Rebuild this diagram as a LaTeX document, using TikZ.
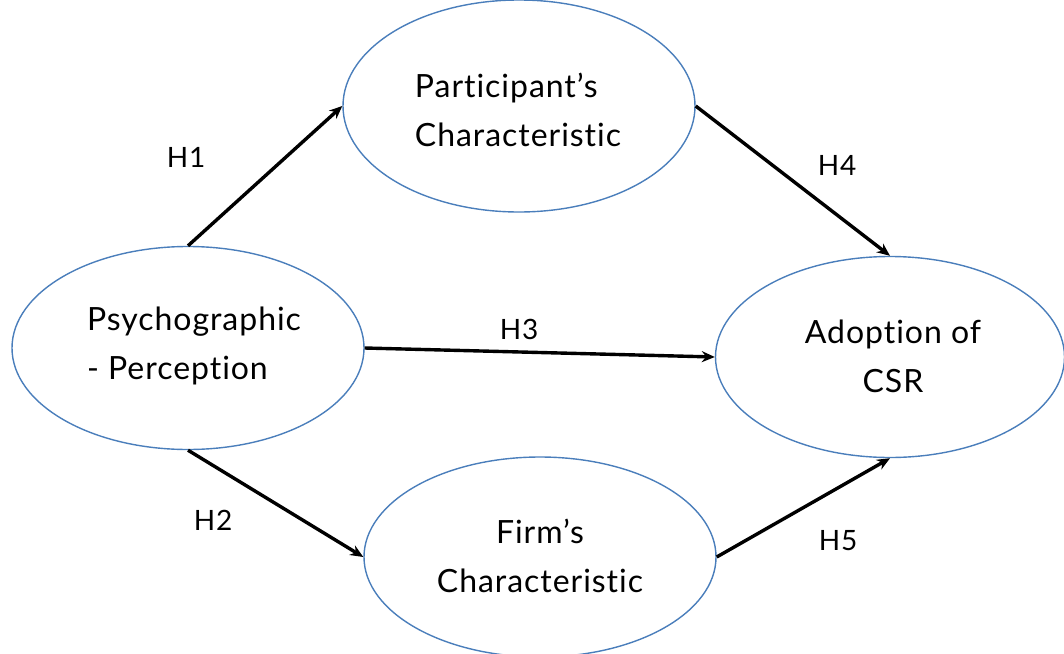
\documentclass[tikz,border=0pt]{standalone}
\usepackage{fontspec}
\setmainfont[Ligatures=NoCommon,LetterSpace=3]{Lato}
\usetikzlibrary{shapes.geometric,arrows.meta}
\definecolor{ellblue}{HTML}{4A7EBB}
\tikzset{
  construct/.style={ellipse, draw=ellblue, line width=1.4pt, inner sep=0pt,
    minimum width=352pt, minimum height=203pt},
  conn/.style={line width=3.4pt, -{Stealth[length=13pt,width=11pt]}},
  lbl/.style={font=\fontsize{28}{30}\selectfont},
  txt/.style={font=\fontsize{32}{49}\selectfont}
}
\begin{document}
\begin{tikzpicture}[x=1pt,y=-1pt]
\useasboundingbox (0,0) rectangle (1064,653);
\clip (0,0) rectangle (1064,653);
\node[construct, minimum height=212pt] (part) at (519,106) {};
\node[construct] (psy) at (188,348) {};
\node[construct, minimum width=349pt, minimum height=201pt] (csr) at (890,357) {};
\node[construct, minimum height=200pt] (firm) at (540,557) {};
\node[txt, align=left] (tpart) at (518,110) {Participant’s\\Characteristic};
\node[txt, align=left] (tpsy) at (194,346) {Psychographic\\- Perception};
\node[txt, align=center] (tcsr) at (893,356) {Adoption of\\CSR};
\node[txt, align=center] (tfirm) at (540,556) {Firm’s\\Characteristic};
\draw[conn] (psy.north) -- (part.west);
\draw[conn] (psy.south) -- (firm.west);
\draw[conn] (psy.east) -- (csr.west);
\draw[conn] (part.east) -- (csr.north);
\draw[conn] (firm.east) -- (csr.south);
\node[lbl] (h1) at (186,157) {H1};
\node[lbl] (h2) at (213,520) {H2};
\node[lbl] (h3) at (519,329) {H3};
\node[lbl] (h4) at (837,165) {H4};
\node[lbl] (h5) at (838,541) {H5};
\end{tikzpicture}
\end{document}
